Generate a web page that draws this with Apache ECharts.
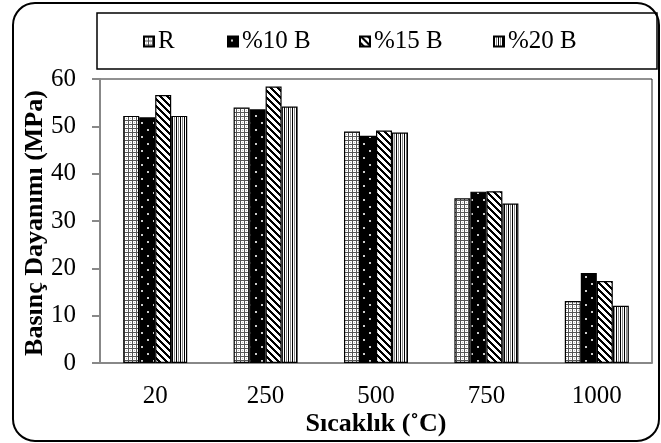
<!DOCTYPE html>
<html><head><meta charset="utf-8">
<script src="https://cdn.jsdelivr.net/npm/echarts@6/dist/echarts.min.js"></script>
<style>html,body{margin:0;padding:0;background:#fff}#c{width:661px;height:443px}</style>
</head><body><div id="c"></div>
<script>
const categories = ['20', '250', '500', '750', '1000'];
const seriesNames = ['R', '%10 B', '%15 B', '%20 B'];
const valuesR = [52.2, 54.0, 48.9, 34.8, 13.1];
const values10B = [51.9, 53.6, 48.0, 36.2, 19.0];
const values15B = [56.6, 58.4, 49.1, 36.3, 17.3];
const values20B = [52.2, 54.2, 48.7, 33.7, 12.1];
const yTicks = { min: 0, max: 60, interval: 10 };

function makeTile(w, h, draw) {
  const c = document.createElement('canvas');
  c.width = w; c.height = h;
  const g = c.getContext('2d');
  draw(g);
  return { image: c, repeat: 'repeat' };
}
const patR = makeTile(4, 4, g => {
  g.fillStyle = '#fff'; g.fillRect(0, 0, 4, 4);
  g.fillStyle = '#555'; g.fillRect(0, 0, 4, 1); g.fillRect(0, 0, 1, 4);
  g.fillStyle = '#bbb'; g.fillRect(2, 2, 1, 1);
});
const pat10 = makeTile(12, 14, g => {
  g.fillStyle = '#000'; g.fillRect(0, 0, 12, 14);
  g.fillStyle = '#ccc'; g.fillRect(3, 3, 2, 2); g.fillRect(9, 10, 2, 2);
});
const pat15 = makeTile(7, 7, g => {
  g.fillStyle = '#fff'; g.fillRect(0, 0, 7, 7);
  g.fillStyle = '#000';
  for (let i = 0; i < 7; i++) { for (let k = 0; k < 3; k++) g.fillRect((i + k) % 7, i, 1, 1); }
});
const pat20 = makeTile(4, 1, g => {
  g.fillStyle = '#fff'; g.fillRect(0, 0, 4, 1);
  g.fillStyle = '#000'; g.fillRect(0, 0, 1, 1);
  g.fillStyle = '#888'; g.fillRect(2, 0, 1, 1);
});
const patterns = [patR, pat10, pat15, pat20];
const allValues = [valuesR, values10B, values15B, values20B];

const font = 'Liberation Serif, Times New Roman, serif';
const legendLefts = [143, 227, 359, 493];

const chart = echarts.init(document.getElementById('c'), null, { renderer: 'canvas' });
chart.setOption({
  animation: false,
  backgroundColor: '#fff',
  grid: { left: 100, right: 9, top: 79, bottom: 80, show: true, borderColor: '#222', borderWidth: 1, containLabel: false },
  legend: seriesNames.map((n, i) => ({
    data: [n], left: legendLefts[i], top: 29, itemWidth: 10, itemHeight: 10, itemGap: 0,
    icon: 'rect', padding: 0,
    textStyle: { fontFamily: font, fontSize: 25, color: '#000', padding: [0, 0, 0, -1] }
  })),
  xAxis: {
    type: 'category', data: categories,
    axisLine: { lineStyle: { color: '#888', width: 2 } },
    axisTick: { show: false },
    axisLabel: { fontFamily: font, fontSize: 25, color: '#000', margin: 21 }
  },
  yAxis: {
    type: 'value', min: yTicks.min, max: yTicks.max, interval: yTicks.interval,
    splitLine: { show: false },
    axisLine: { show: true, lineStyle: { color: '#888', width: 2 } },
    axisTick: { show: true, length: 8, lineStyle: { color: '#888', width: 2 } },
    axisLabel: { fontFamily: font, fontSize: 25, color: '#000', margin: 24 }
  },
  series: seriesNames.map((n, i) => ({
    name: n, type: 'bar', data: allValues[i], barWidth: 16, barGap: '0%',
    itemStyle: { color: patterns[i], borderColor: '#000', borderWidth: 1.2 }
  })),
  graphic: [
    { type: 'rect', shape: { x: 13, y: 3, width: 646, height: 438, r: 22 }, style: { fill: 'none', stroke: '#000', lineWidth: 2 }, z: 100 },
    { type: 'rect', shape: { x: 97, y: 13, width: 560, height: 56 }, style: { fill: 'none', stroke: '#000', lineWidth: 1.5 }, z: 100 },
    { type: 'text', x: 376, y: 424, style: { text: 'Sıcaklık (˚C)', font: 'bold 26px ' + font, fill: '#000', textAlign: 'center', textVerticalAlign: 'middle' } },
    { type: 'text', x: 35, y: 223, rotation: Math.PI / 2, style: { text: 'Basınç Dayanımı (MPa)', font: 'bold 26px ' + font, fill: '#000', textAlign: 'center', textVerticalAlign: 'middle' } }
  ]
});
</script></body></html>
